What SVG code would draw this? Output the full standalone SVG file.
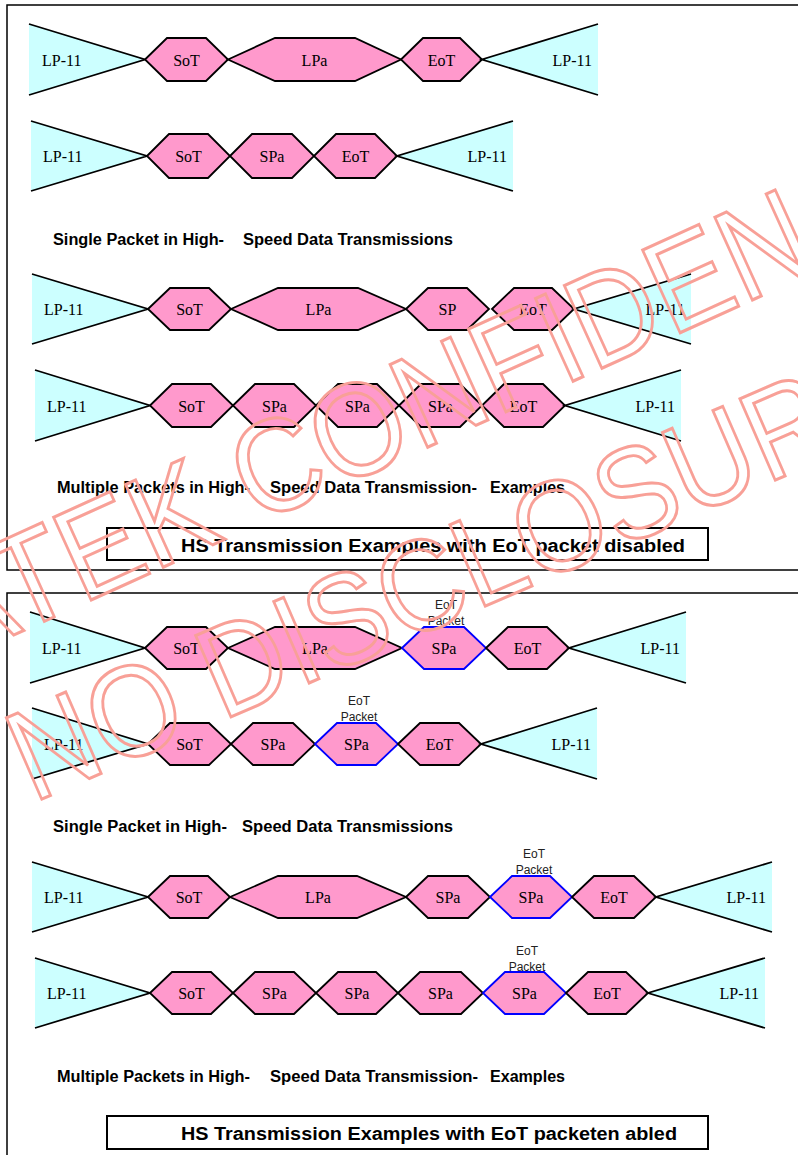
<svg xmlns="http://www.w3.org/2000/svg" width="798" height="1155" viewBox="0 0 798 1155">
<style>
.frame{fill:none;stroke:#000;stroke-width:1.5}
.tbox{fill:#fff;stroke:#000;stroke-width:2}
.tri{fill:#ccffff;stroke:none}
.edge{stroke:#000;stroke-width:1.8;fill:none}
.hex{fill:#ff99cc;stroke:#000;stroke-width:1.8;stroke-linejoin:miter}
.blue{stroke:#0000ff}
.lbl{font-family:"Liberation Serif","Times New Roman",serif;font-size:16px;fill:#000;text-anchor:middle}
.lp{font-family:"Liberation Serif","Times New Roman",serif;font-size:16px;fill:#000}
.lpr{font-family:"Liberation Serif","Times New Roman",serif;font-size:16px;fill:#000;text-anchor:end}
.note{font-family:"Liberation Sans",Arial,sans-serif;font-size:12px;fill:#222;text-anchor:middle}
.cap{font-family:"Liberation Sans",Arial,sans-serif;font-size:16px;font-weight:bold;fill:#000}
.title{font-family:"Liberation Sans",Arial,sans-serif;font-size:18px;font-weight:bold;fill:#000}
.wm{font-family:"Liberation Sans",Arial,sans-serif;fill:none;stroke:#f8a097;stroke-width:3}
</style>
<rect width="798" height="1155" fill="#fff"/>
<g id="frames">
<rect class="frame" x="7" y="5" width="830" height="565"/>
<rect class="frame" x="7" y="593" width="830" height="620"/>
</g>

<!-- Row 1 -->
<g id="r1-lp-left"><polygon class="tri" points="29,24 145,59.5 29,95"/><polyline class="edge" points="29,24 145,59.5 29,95"/><text class="lp" x="42" y="65.5">LP-11</text></g>
<g id="r1-sot"><polygon class="hex" points="145,59.5 167,38 206,38 228,59.5 206,81 167,81"/><text class="lbl" x="186.5" y="65.5">SoT</text></g>
<g id="r1-lpa"><polygon class="hex" points="228,59.5 275,38 355,38 401,59.5 355,81 275,81"/><text class="lbl" x="314.5" y="65.5">LPa</text></g>
<g id="r1-eot"><polygon class="hex" points="401,59.5 423,38 460,38 482,59.5 460,81 423,81"/><text class="lbl" x="441.5" y="65.5">EoT</text></g>
<g id="r1-lp-right"><polygon class="tri" points="482,59.5 598,24 598,95"/><polyline class="edge" points="598,24 482,59.5 598,95"/><text class="lpr" x="592" y="65.5">LP-11</text></g>

<!-- Row 2 -->
<g id="r2-lp-left"><polygon class="tri" points="31,121 147,156 31,191"/><polyline class="edge" points="31,121 147,156 31,191"/><text class="lp" x="43" y="162">LP-11</text></g>
<g id="r2-sot"><polygon class="hex" points="147,156 169,134 208,134 230,156 208,178 169,178"/><text class="lbl" x="188.5" y="162">SoT</text></g>
<g id="r2-spa"><polygon class="hex" points="230,156 252,134 292,134 314,156 292,178 252,178"/><text class="lbl" x="272" y="162">SPa</text></g>
<g id="r2-eot"><polygon class="hex" points="314,156 336,134 375,134 397,156 375,178 336,178"/><text class="lbl" x="355.5" y="162">EoT</text></g>
<g id="r2-lp-right"><polygon class="tri" points="397,156 513,121 513,191"/><polyline class="edge" points="513,121 397,156 513,191"/><text class="lpr" x="507" y="162">LP-11</text></g>

<g id="cap1"><text class="cap" x="53" y="245" textLength="171" lengthAdjust="spacingAndGlyphs">Single Packet in High-</text><text class="cap" x="243" y="245" textLength="210" lengthAdjust="spacingAndGlyphs">Speed Data Transmissions</text></g>

<!-- Row 3 -->
<g id="r3-lp-left"><polygon class="tri" points="32,274 148,309 32,344"/><polyline class="edge" points="32,274 148,309 32,344"/><text class="lp" x="44" y="315">LP-11</text></g>
<g id="r3-sot"><polygon class="hex" points="148,309 170,288 209,288 231,309 209,330 170,330"/><text class="lbl" x="189.5" y="315">SoT</text></g>
<g id="r3-lpa"><polygon class="hex" points="231,309 278,288 358,288 406,309 358,330 278,330"/><text class="lbl" x="318.5" y="315">LPa</text></g>
<g id="r3-sp"><polygon class="hex" points="406,309 428,288 467,288 489,309 467,330 428,330"/><text class="lbl" x="447.5" y="315">SP</text></g>
<g id="r3-eot"><polygon class="hex" points="492,309 514,288 552,288 574,309 552,330 514,330"/><text class="lbl" x="533" y="315">EoT</text></g>
<g id="r3-lp-right"><polygon class="tri" points="574,309 691,274 691,344"/><polyline class="edge" points="691,274 574,309 691,344"/><text class="lpr" x="685" y="315">LP-11</text></g>

<!-- Row 4 -->
<g id="r4-lp-left"><polygon class="tri" points="35,370 150,405.5 35,441"/><polyline class="edge" points="35,370 150,405.5 35,441"/><text class="lp" x="47" y="411.5">LP-11</text></g>
<g id="r4-sot"><polygon class="hex" points="150,405.5 172,384 211,384 233,405.5 211,427 172,427"/><text class="lbl" x="191.5" y="411.5">SoT</text></g>
<g id="r4-spa1"><polygon class="hex" points="233,405.5 255,384 294,384 316,405.5 294,427 255,427"/><text class="lbl" x="274.5" y="411.5">SPa</text></g>
<g id="r4-spa2"><polygon class="hex" points="316,405.5 338,384 377,384 399,405.5 377,427 338,427"/><text class="lbl" x="357.5" y="411.5">SPa</text></g>
<g id="r4-spa3"><polygon class="hex" points="399,405.5 421,384 460,384 482,405.5 460,427 421,427"/><text class="lbl" x="440.5" y="411.5">SPa</text></g>
<g id="r4-eot"><polygon class="hex" points="482,405.5 504,384 543,384 565,405.5 543,427 504,427"/><text class="lbl" x="523.5" y="411.5">EoT</text></g>
<g id="r4-lp-right"><polygon class="tri" points="565,405.5 681,370 681,441"/><polyline class="edge" points="681,370 565,405.5 681,441"/><text class="lpr" x="675" y="411.5">LP-11</text></g>

<g id="cap2"><text class="cap" x="57" y="493" textLength="193" lengthAdjust="spacingAndGlyphs">Multiple Packets in High-</text><text class="cap" x="270" y="493" textLength="207" lengthAdjust="spacingAndGlyphs">Speed Data Transmission-</text><text class="cap" x="490" y="493" textLength="75" lengthAdjust="spacingAndGlyphs">Examples</text></g>

<g id="title1"><rect class="tbox" x="107" y="528" width="601" height="32"/><text class="title" x="181" y="552" textLength="504" lengthAdjust="spacingAndGlyphs">HS Transmission Examples with EoT packet disabled</text></g>

<!-- Row 5 -->
<g id="r5-lp-left"><polygon class="tri" points="30,612 145,648 30,683"/><polyline class="edge" points="30,612 145,648 30,683"/><text class="lp" x="42" y="654">LP-11</text></g>
<g id="r5-sot"><polygon class="hex" points="145,648 167,627 206,627 228,648 206,669 167,669"/><text class="lbl" x="186.5" y="654">SoT</text></g>
<g id="r5-lpa"><polygon class="hex" points="228,648 275,627 355,627 402,648 355,669 275,669"/><text class="lbl" x="315" y="654">LPa</text></g>
<g id="r5-spa"><polygon class="hex blue" points="402,648 424,627 464,627 486,648 464,669 424,669"/><text class="lbl" x="444" y="654">SPa</text><text class="note" x="446" y="609">EoT</text><text class="note" x="446" y="624.5">Packet</text></g>
<g id="r5-eot"><polygon class="hex" points="486,648 508,627 547,627 569,648 547,669 508,669"/><text class="lbl" x="527.5" y="654">EoT</text></g>
<g id="r5-lp-right"><polygon class="tri" points="569,648 686,612 686,683"/><polyline class="edge" points="686,612 569,648 686,683"/><text class="lpr" x="680" y="654">LP-11</text></g>

<!-- Row 6 -->
<g id="r6-lp-left"><polygon class="tri" points="32,708 148,744 32,779"/><polyline class="edge" points="32,708 148,744 32,779"/><text class="lp" x="44" y="750">LP-11</text></g>
<g id="r6-sot"><polygon class="hex" points="148,744 170,723 209,723 231,744 209,765 170,765"/><text class="lbl" x="189.5" y="750">SoT</text></g>
<g id="r6-spa"><polygon class="hex" points="231,744 253,723 293,723 315,744 293,765 253,765"/><text class="lbl" x="273" y="750">SPa</text></g>
<g id="r6-spa-eot"><polygon class="hex blue" points="315,744 337,723 376,723 398,744 376,765 337,765"/><text class="lbl" x="356.5" y="750">SPa</text><text class="note" x="359" y="705">EoT</text><text class="note" x="359" y="720.5">Packet</text></g>
<g id="r6-eot"><polygon class="hex" points="398,744 420,723 459,723 481,744 459,765 420,765"/><text class="lbl" x="439.5" y="750">EoT</text></g>
<g id="r6-lp-right"><polygon class="tri" points="481,744 597,708 597,779"/><polyline class="edge" points="597,708 481,744 597,779"/><text class="lpr" x="591" y="750">LP-11</text></g>

<g id="cap3"><text class="cap" x="53" y="832" textLength="174" lengthAdjust="spacingAndGlyphs">Single Packet in High-</text><text class="cap" x="242" y="832" textLength="211" lengthAdjust="spacingAndGlyphs">Speed Data Transmissions</text></g>

<!-- Row 7 -->
<g id="r7-lp-left"><polygon class="tri" points="32,862 148,897 32,932"/><polyline class="edge" points="32,862 148,897 32,932"/><text class="lp" x="44" y="903">LP-11</text></g>
<g id="r7-sot"><polygon class="hex" points="148,897 170,876 208,876 230,897 208,918 170,918"/><text class="lbl" x="189" y="903">SoT</text></g>
<g id="r7-lpa"><polygon class="hex" points="230,897 278,876 357,876 406,897 357,918 278,918"/><text class="lbl" x="318" y="903">LPa</text></g>
<g id="r7-spa"><polygon class="hex" points="406,897 428,876 468,876 490,897 468,918 428,918"/><text class="lbl" x="448" y="903">SPa</text></g>
<g id="r7-spa-eot"><polygon class="hex blue" points="490,897 512,876 550,876 572,897 550,918 512,918"/><text class="lbl" x="531" y="903">SPa</text><text class="note" x="534" y="858">EoT</text><text class="note" x="534" y="873.5">Packet</text></g>
<g id="r7-eot"><polygon class="hex" points="572,897 594,876 634,876 656,897 634,918 594,918"/><text class="lbl" x="614" y="903">EoT</text></g>
<g id="r7-lp-right"><polygon class="tri" points="656,897 772,862 772,932"/><polyline class="edge" points="772,862 656,897 772,932"/><text class="lpr" x="766" y="903">LP-11</text></g>

<!-- Row 8 -->
<g id="r8-lp-left"><polygon class="tri" points="35,958 150,993 35,1028"/><polyline class="edge" points="35,958 150,993 35,1028"/><text class="lp" x="47" y="999">LP-11</text></g>
<g id="r8-sot"><polygon class="hex" points="150,993 172,972 211,972 233,993 211,1014 172,1014"/><text class="lbl" x="191.5" y="999">SoT</text></g>
<g id="r8-spa1"><polygon class="hex" points="233,993 255,972 294,972 316,993 294,1014 255,1014"/><text class="lbl" x="274.5" y="999">SPa</text></g>
<g id="r8-spa2"><polygon class="hex" points="316,993 338,972 376,972 398,993 376,1014 338,1014"/><text class="lbl" x="357" y="999">SPa</text></g>
<g id="r8-spa3"><polygon class="hex" points="398,993 420,972 461,972 483,993 461,1014 420,1014"/><text class="lbl" x="440.5" y="999">SPa</text></g>
<g id="r8-spa-eot"><polygon class="hex blue" points="483,993 505,972 544,972 566,993 544,1014 505,1014"/><text class="lbl" x="524.5" y="999">SPa</text><text class="note" x="527" y="955">EoT</text><text class="note" x="527" y="970.5">Packet</text></g>
<g id="r8-eot"><polygon class="hex" points="566,993 588,972 626,972 648,993 626,1014 588,1014"/><text class="lbl" x="607" y="999">EoT</text></g>
<g id="r8-lp-right"><polygon class="tri" points="648,993 765,958 765,1028"/><polyline class="edge" points="765,958 648,993 765,1028"/><text class="lpr" x="759" y="999">LP-11</text></g>

<g id="cap4"><text class="cap" x="57" y="1082" textLength="193" lengthAdjust="spacingAndGlyphs">Multiple Packets in High-</text><text class="cap" x="270" y="1082" textLength="208" lengthAdjust="spacingAndGlyphs">Speed Data Transmission-</text><text class="cap" x="490" y="1082" textLength="75" lengthAdjust="spacingAndGlyphs">Examples</text></g>

<g id="title2"><rect class="tbox" x="107" y="1116" width="601" height="33"/><text class="title" x="181" y="1140" textLength="496" lengthAdjust="spacingAndGlyphs">HS Transmission Examples with EoT packeten abled</text></g>

<g id="watermark">
<text class="wm" font-size="132" transform="translate(-48,663) rotate(-24.4) scale(0.9,1)">ATEK CONFIDEN</text>
<text class="wm" font-size="129" transform="translate(33,803) rotate(-23.5) scale(0.9,1)">NO DISCLOSUR</text>
</g>
</svg>
